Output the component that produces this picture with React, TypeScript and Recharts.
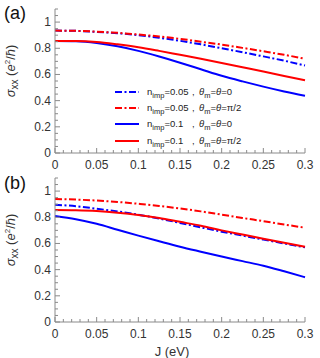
import React from 'react';
import { LineChart, Line, XAxis, YAxis } from 'recharts';

// J (eV) sample points shared by every curve
const jValues = [0, 0.025, 0.05, 0.075, 0.1, 0.125, 0.15, 0.175, 0.2, 0.225, 0.25, 0.275, 0.3];

// panel (a)
const aDashBlue = [0.935, 0.933, 0.925, 0.915, 0.9, 0.88, 0.857, 0.83, 0.8, 0.77, 0.738, 0.705, 0.668];
const aDashRed = [0.935, 0.933, 0.927, 0.918, 0.905, 0.89, 0.872, 0.85, 0.828, 0.803, 0.777, 0.75, 0.72];
const aSolidBlue = [0.855, 0.853, 0.84, 0.815, 0.78, 0.737, 0.69, 0.64, 0.59, 0.547, 0.507, 0.47, 0.437];
const aSolidRed = [0.855, 0.855, 0.848, 0.83, 0.808, 0.78, 0.75, 0.72, 0.688, 0.655, 0.622, 0.588, 0.555];

// panel (b)
const bDashBlue = [0.895, 0.885, 0.865, 0.845, 0.82, 0.79, 0.757, 0.723, 0.69, 0.66, 0.63, 0.6, 0.57];
const bDashRed = [0.94, 0.935, 0.928, 0.917, 0.903, 0.887, 0.867, 0.845, 0.82, 0.795, 0.77, 0.745, 0.72];
const bSolidBlue = [0.81, 0.785, 0.75, 0.705, 0.66, 0.617, 0.575, 0.537, 0.5, 0.465, 0.43, 0.387, 0.342];
const bSolidRed = [0.855, 0.853, 0.847, 0.835, 0.818, 0.795, 0.765, 0.735, 0.7, 0.668, 0.636, 0.605, 0.575];

// ticks (minor + major); labels only drawn on majors
const xTicks = [0, 0.01, 0.02, 0.03, 0.04, 0.05, 0.06, 0.07, 0.08, 0.09, 0.1, 0.11, 0.12, 0.13, 0.14, 0.15,
  0.16, 0.17, 0.18, 0.19, 0.2, 0.21, 0.22, 0.23, 0.24, 0.25, 0.26, 0.27, 0.28, 0.29, 0.3];
const xMajor = [0, 0.05, 0.1, 0.15, 0.2, 0.25, 0.3];
const yTicks = [0, 0.05, 0.1, 0.15, 0.2, 0.25, 0.3, 0.35, 0.4, 0.45, 0.5, 0.55, 0.6, 0.65, 0.7, 0.75, 0.8,
  0.85, 0.9, 0.95, 1, 1.05, 1.1];
const yMajor = [0, 0.2, 0.4, 0.6, 0.8, 1];

const seriesNames = ['dashBlue', 'dashRed', 'solidBlue', 'solidRed'];
const legendImp = ['0.05', '0.05', '0.1', '0.1'];
const legendTheta = ['0', 'π/2', '0', 'π/2'];

const BLUE = '#0000ff';
const RED = '#ff0000';
const FRAME = '#8a8a8a';
const TXT = '#333';
const FONT = '"Liberation Sans", Arial, sans-serif';

const styles = [
  { stroke: BLUE, dash: '7 2.5 2 2.5' },
  { stroke: RED, dash: '7 2.5 2 2.5' },
  { stroke: BLUE, dash: undefined },
  { stroke: RED, dash: undefined },
];

const buildRows = (cols: number[][]) =>
  jValues.map((j, i) => {
    const row: any = { j };
    seriesNames.forEach((n, k) => (row[n] = cols[k][i]));
    return row;
  });

const dataA = buildRows([aDashBlue, aDashRed, aSolidBlue, aSolidRed]);
const dataB = buildRows([bDashBlue, bDashRed, bSolidBlue, bSolidRed]);

const isIn = (arr: number[], v: number) => arr.some((m) => Math.abs(m - v) < 1e-6);

const BottomTick = (props: any) => {
  const { x, y, payload } = props;
  const major = isIn(xMajor, payload.value);
  return (
    <g>
      <line x1={x} x2={x} y1={y} y2={y - (major ? 5 : 3)} stroke={FRAME} strokeWidth={1} />
      {major && (
        <text x={x} y={y + 16} textAnchor="middle" fontSize={12} fill={TXT} fontFamily={FONT}>
          {payload.value}
        </text>
      )}
    </g>
  );
};

const TopTick = (props: any) => {
  const { x, y, payload } = props;
  const major = isIn(xMajor, payload.value);
  return <line x1={x} x2={x} y1={y} y2={y + (major ? 5 : 3)} stroke={FRAME} strokeWidth={1} />;
};

const LeftTick = (props: any) => {
  const { x, y, payload } = props;
  const major = isIn(yMajor, payload.value);
  return (
    <g>
      <line x1={x} x2={x + (major ? 5 : 3)} y1={y} y2={y} stroke={FRAME} strokeWidth={1} />
      {major && (
        <text x={x - 4} y={y + 4} textAnchor="end" fontSize={12} fill={TXT} fontFamily={FONT}>
          {payload.value}
        </text>
      )}
    </g>
  );
};

const RightTick = (props: any) => {
  const { x, y, payload } = props;
  const major = isIn(yMajor, payload.value);
  return <line x1={x} x2={x - (major ? 5 : 3)} y1={y} y2={y} stroke={FRAME} strokeWidth={1} />;
};

const YTitle = (props: any) => {
  const vb = props.viewBox || { x: 0, y: 0, width: 55, height: 144 };
  const cx = 15;
  const cy = vb.y + vb.height / 2 - 10;
  return (
    <text
      x={cx}
      y={cy}
      transform={`rotate(-90 ${cx} ${cy})`}
      textAnchor="middle"
      fontSize={13}
      fill={TXT}
      fontFamily={FONT}
    >
      <tspan fontStyle="italic">σ</tspan>
      <tspan fontSize={10} dy={3}>xx</tspan>
      <tspan dy={-3}> (</tspan>
      <tspan fontStyle="italic">e</tspan>
      <tspan fontSize={8} dy={-5}>2</tspan>
      <tspan dy={5}>/</tspan>
      <tspan fontStyle="italic">ħ</tspan>
      <tspan>)</tspan>
    </text>
  );
};

const Legend4 = () => {
  const rows = [92, 108, 124, 141];
  return (
    <svg width={320} height={172} style={{ position: 'absolute', left: 0, top: 0, pointerEvents: 'none' }}>
      {rows.map((ry, i) => (
        <g key={i} fontFamily={FONT} fill="#222">
          <line x1={115} x2={139} y1={ry} y2={ry} stroke={styles[i].stroke} strokeWidth={2}
            strokeDasharray={styles[i].dash} />
          <text x={147} y={ry + 3} fontSize={9.5}>
            n<tspan fontSize={7.5} dy={3}>imp</tspan><tspan dy={-3}>={legendImp[i]}</tspan>
          </text>
          <text x={192} y={ry + 3} fontSize={9.5}>,</text>
          <text x={199} y={ry + 3} fontSize={9.5}>
            <tspan fontStyle="italic">θ</tspan><tspan fontSize={7.5} dy={3}>m</tspan>
            <tspan dy={-3}>=</tspan><tspan fontStyle="italic">θ</tspan><tspan>={legendTheta[i]}</tspan>
          </text>
        </g>
      ))}
    </svg>
  );
};

const Panel = ({ data, label, height, top, bottomH, showXTitle, legend }: any) => (
  <div style={{ position: 'relative', width: 320, height }}>
    <LineChart width={320} height={height} data={data} margin={{ top, right: 15, bottom: 0, left: 0 }}>
      <XAxis dataKey="j" type="number" domain={[0, 0.3]} ticks={xTicks} interval={0} height={bottomH}
        stroke={FRAME} tickLine={false} tickSize={0} tickMargin={0} tick={<BottomTick />}
        label={showXTitle ? { value: 'J (eV)', position: 'insideBottom', offset: 2, dx: -8, fontSize: 13, fill: TXT, fontFamily: FONT } : undefined} />
      <XAxis xAxisId="top" dataKey="j" type="number" domain={[0, 0.3]} ticks={xTicks} interval={0}
        orientation="top" height={0} stroke={FRAME} tickLine={false} tickSize={0} tickMargin={0} tick={<TopTick />} />
      <YAxis type="number" domain={[0, 1.1]} ticks={yTicks} interval={0} width={55} stroke={FRAME}
        tickLine={false} tickSize={0} tickMargin={0} tick={<LeftTick />} label={<YTitle />} />
      <YAxis yAxisId="right" orientation="right" type="number" domain={[0, 1.1]} ticks={yTicks} interval={0}
        width={0} stroke={FRAME} tickLine={false} tickSize={0} tickMargin={0} tick={<RightTick />} />
      {seriesNames.map((n, i) => (
        <Line key={n} dataKey={n} type="monotone" stroke={styles[i].stroke} strokeWidth={2}
          strokeDasharray={styles[i].dash} dot={false} isAnimationActive={false} />
      ))}
    </LineChart>
    <div style={{ position: 'absolute', left: 4, top: label === '(a)' ? 3 : 1, fontSize: 18, fontFamily: FONT, color: '#111' }}>
      {label}
    </div>
    {legend && <Legend4 />}
  </div>
);

export default function App() {
  return (
    <div style={{ position: 'absolute', left: 0, top: 0, width: 320, height: 358, background: '#fff' }}>
      <Panel data={dataA} label="(a)" height={172} top={9} bottomH={19} legend />
      <Panel data={dataB} label="(b)" height={186} top={6} bottomH={36} showXTitle />
    </div>
  );
}
